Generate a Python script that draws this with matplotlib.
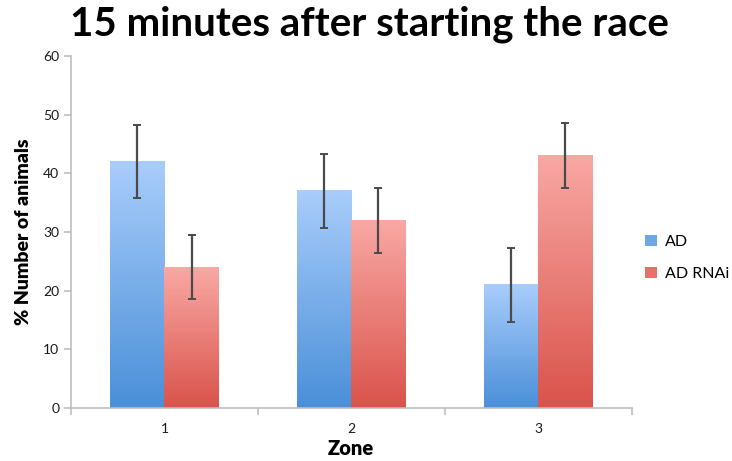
import numpy as np
import matplotlib.pyplot as plt
from matplotlib.patches import Patch
from matplotlib.colors import LinearSegmentedColormap

zones = ["1", "2", "3"]
ad_values = [42, 37, 21]
ad_errors = [6.2, 6.3, 6.3]
rnai_values = [24, 32, 43]
rnai_errors = [5.5, 5.5, 5.5]
series_names = ["AD", "AD RNAi"]

BAR_WIDTH = 0.29
FONT = ["Lato", "DejaVu Sans"]

blue_map = LinearSegmentedColormap.from_list("blue", ["#4a8fd8", "#a9cdfb"])
red_map = LinearSegmentedColormap.from_list("red", ["#d9534b", "#f9a8a4"])


def gradient_bars(ax, xs, heights, cmap):
    """Draw bars filled with a vertical gradient, dark at the bottom."""
    grad = np.linspace(0, 1, 256).reshape(-1, 1)
    for x, h in zip(xs, heights):
        ax.imshow(grad, cmap=cmap, origin="lower", aspect="auto",
                  extent=(x - BAR_WIDTH / 2, x + BAR_WIDTH / 2, 0, h), zorder=2)


fig = plt.figure(figsize=(7.32, 4.61), dpi=100)
ax = fig.add_axes([0.097, 0.115, 0.766, 0.7635])

x = np.arange(1, len(zones) + 1)
ad_x = x - BAR_WIDTH / 2
rnai_x = x + BAR_WIDTH / 2

gradient_bars(ax, ad_x, ad_values, blue_map)
gradient_bars(ax, rnai_x, rnai_values, red_map)

err_style = dict(fmt="none", ecolor="#4a4a4a", elinewidth=1.6, capsize=3, capthick=1.4, zorder=3)
ax.errorbar(ad_x, ad_values, yerr=ad_errors, **err_style)
ax.errorbar(rnai_x, rnai_values, yerr=rnai_errors, **err_style)

ax.set_xlim(0.5, 3.5)
ax.set_ylim(0, 60)
ax.set_yticks(range(0, 61, 10))
ax.set_xticks(x)
ax.set_xticklabels(zones)
ax.set_xticks([0.5, 1.5, 2.5, 3.5], minor=True)

for side in ["top", "right"]:
    ax.spines[side].set_visible(False)
for side in ["left", "bottom"]:
    ax.spines[side].set_color("#bdbdbd")
    ax.spines[side].set_linewidth(1.2)

ax.tick_params(axis="y", direction="out", length=5, color="#bdbdbd", width=1.2,
               labelsize=10, labelcolor="#1a1a1a")
ax.tick_params(axis="x", which="major", length=0, pad=11, labelsize=10, labelcolor="#1a1a1a")
ax.tick_params(axis="x", which="minor", direction="out", length=5, color="#bdbdbd", width=1.2)
for lbl in ax.get_xticklabels() + ax.get_yticklabels():
    lbl.set_family(FONT)

ax.set_xlabel("Zone", fontsize=14.5, fontweight="heavy", family=FONT, labelpad=3)
ax.set_ylabel("% Number of animals", fontsize=14, fontweight="heavy", family=FONT, labelpad=8)

fig.text(0.505, 0.947, "15 minutes after starting the race", ha="center", va="center",
         fontsize=29, fontweight="bold", family=FONT)

handles = [Patch(facecolor="#6fa6e6", label=series_names[0]),
           Patch(facecolor="#e8706a", label=series_names[1])]
fig.legend(handles=handles, loc="center left", bbox_to_anchor=(0.862, 0.44), frameon=False,
           handlelength=0.7, handleheight=0.7, handletextpad=0.5, labelspacing=1.1,
           prop={"family": FONT, "size": 11.5})

fig.savefig("out.png", dpi=100)
